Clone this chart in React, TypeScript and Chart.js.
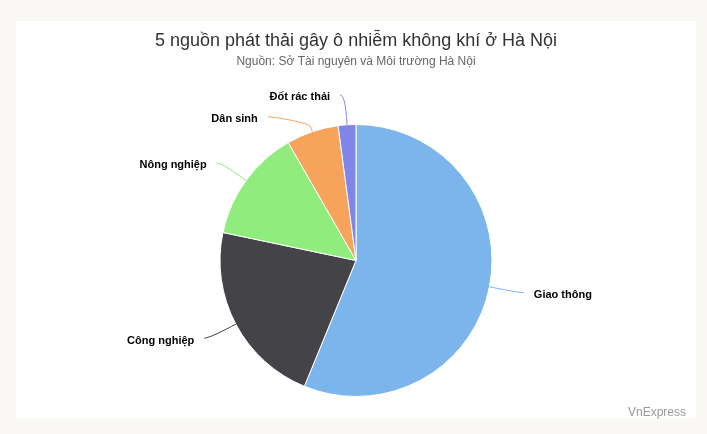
import React, { useEffect, useRef } from "react";
import { Chart, registerables } from "chart.js";

Chart.register(...registerables);

const TITLE = "5 nguồn phát thải gây ô nhiễm không khí ở Hà Nội";
const SUBTITLE = "Nguồn: Sở Tài nguyên và Môi trường Hà Nội";
const CREDIT = "VnExpress";
const CATEGORIES = ["Giao thông", "Công nghiệp", "Nông nghiệp", "Dân sinh", "Đốt rác thải"];
const VALUES = [56.2, 22.1, 13.4, 6.2, 2.1];
const COLORS = ["#7cb5ec", "#434348", "#90ed7d", "#f7a35c", "#8085e9"];

const FONT = '"Liberation Sans", Arial, Helvetica, sans-serif';
const W = 707;
const H = 434;

const pieLabels = {
  id: "pieLabels",
  afterDatasetsDraw(chart: any) {
    const ctx = chart.ctx;
    const meta = chart.getDatasetMeta(0);
    const labels: string[] = chart.data.labels;
    const colors: string[] = chart.data.datasets[0].backgroundColor;
    const dist = 30;
    const items = meta.data.map((arc: any, i: number) => {
      const p = arc.getProps(["x", "y", "startAngle", "endAngle", "outerRadius"], true);
      const mid = (p.startAngle + p.endAngle) / 2;
      const r = p.outerRadius;
      const R = r + dist;
      const cos = Math.cos(mid);
      const sin = Math.sin(mid);
      return {
        i, cx: p.x, cy: p.y, r, R, cos, sin,
        left: cos < 0,
        nx: p.x + R * cos,
        ny: p.y + R * sin,
        x: 0,
        y: 0,
      };
    });
    const topBound = chart.chartArea.top - dist;
    const gap = 22;
    for (const side of [true, false]) {
      const arr = items.filter((it: any) => it.left === side).sort((a: any, b: any) => a.ny - b.ny);
      let prev = -Infinity;
      for (const it of arr) {
        const y = Math.max(it.ny, topBound, prev + gap);
        it.y = y;
        prev = y;
      }
    }
    ctx.save();
    for (const it of items) {
      let x: number;
      if (Math.abs(it.y - it.ny) < 0.5) {
        x = it.nx;
      } else {
        const dy = it.y - it.cy;
        const dx = Math.sqrt(Math.max(0, it.R * it.R - dy * dy));
        x = it.cx + (it.left ? -dx : dx);
      }
      x += it.left ? -5 : 5;
      const y = it.y;
      const bx = it.cx + (it.r + 5) * it.cos;
      const by = it.cy + (it.r + 5) * it.sin;
      const tx = it.cx + it.r * it.cos;
      const ty = it.cy + it.r * it.sin;
      ctx.beginPath();
      ctx.moveTo(x, y);
      ctx.bezierCurveTo(x + (it.left ? 5 : -5), y, 2 * bx - tx, 2 * by - ty, bx, by);
      ctx.lineTo(tx, ty);
      ctx.strokeStyle = colors[it.i];
      ctx.lineWidth = 1;
      ctx.stroke();

      const textX = x + (it.left ? -10 : 10);
      const textY = y + 2.5;
      ctx.font = `bold 11px ${FONT}`;
      ctx.textAlign = it.left ? "right" : "left";
      ctx.textBaseline = "middle";
      ctx.lineJoin = "round";
      ctx.strokeStyle = "rgba(255,255,255,0.9)";
      ctx.lineWidth = 2;
      ctx.strokeText(labels[it.i], textX, textY);
      ctx.fillStyle = "#000000";
      ctx.fillText(labels[it.i], textX, textY);
    }
    ctx.restore();
  },
  afterDraw(chart: any) {
    const ctx = chart.ctx;
    ctx.save();
    ctx.font = `12px ${FONT}`;
    ctx.fillStyle = "#999999";
    ctx.textAlign = "right";
    ctx.textBaseline = "middle";
    ctx.fillText(CREDIT, 686, 413);
    ctx.restore();
  },
};

export default function App() {
  const canvasRef = useRef<HTMLCanvasElement | null>(null);

  useEffect(() => {
    if (!canvasRef.current) return;
    const chart = new Chart(canvasRef.current, {
      type: "pie",
      data: {
        labels: CATEGORIES,
        datasets: [
          {
            data: VALUES,
            backgroundColor: COLORS,
            borderColor: "#ffffff",
            borderWidth: 1,
            hoverOffset: 0,
          },
        ],
      },
      options: {
        responsive: false,
        animation: false,
        events: [],
        layout: { padding: { left: 5, right: 0, top: 0, bottom: 37 } },
        plugins: {
          legend: { display: false },
          tooltip: { enabled: false },
          title: {
            display: true,
            text: TITLE,
            color: "#333333",
            font: { family: FONT, size: 18, weight: "normal", lineHeight: 1.2 },
            padding: { top: 30, bottom: 0 },
          },
          subtitle: {
            display: true,
            text: SUBTITLE,
            color: "#666666",
            font: { family: FONT, size: 12, weight: "normal", lineHeight: 1.2 },
            padding: { top: 2.7, bottom: 55.3 },
          },
        },
      } as any,
      plugins: [pieLabels as any],
    });
    return () => chart.destroy();
  }, []);

  return (
    <div style={{ position: "fixed", left: 0, top: 0, width: W, height: H, background: "#f9f8f4", overflow: "hidden" }}>
      <div style={{ position: "absolute", left: 16, top: 21, width: 680, height: 397, background: "#ffffff" }} />
      <canvas
        ref={canvasRef}
        width={W}
        height={H}
        style={{ position: "absolute", left: 0, top: 0, width: W, height: H }}
      />
    </div>
  );
}
